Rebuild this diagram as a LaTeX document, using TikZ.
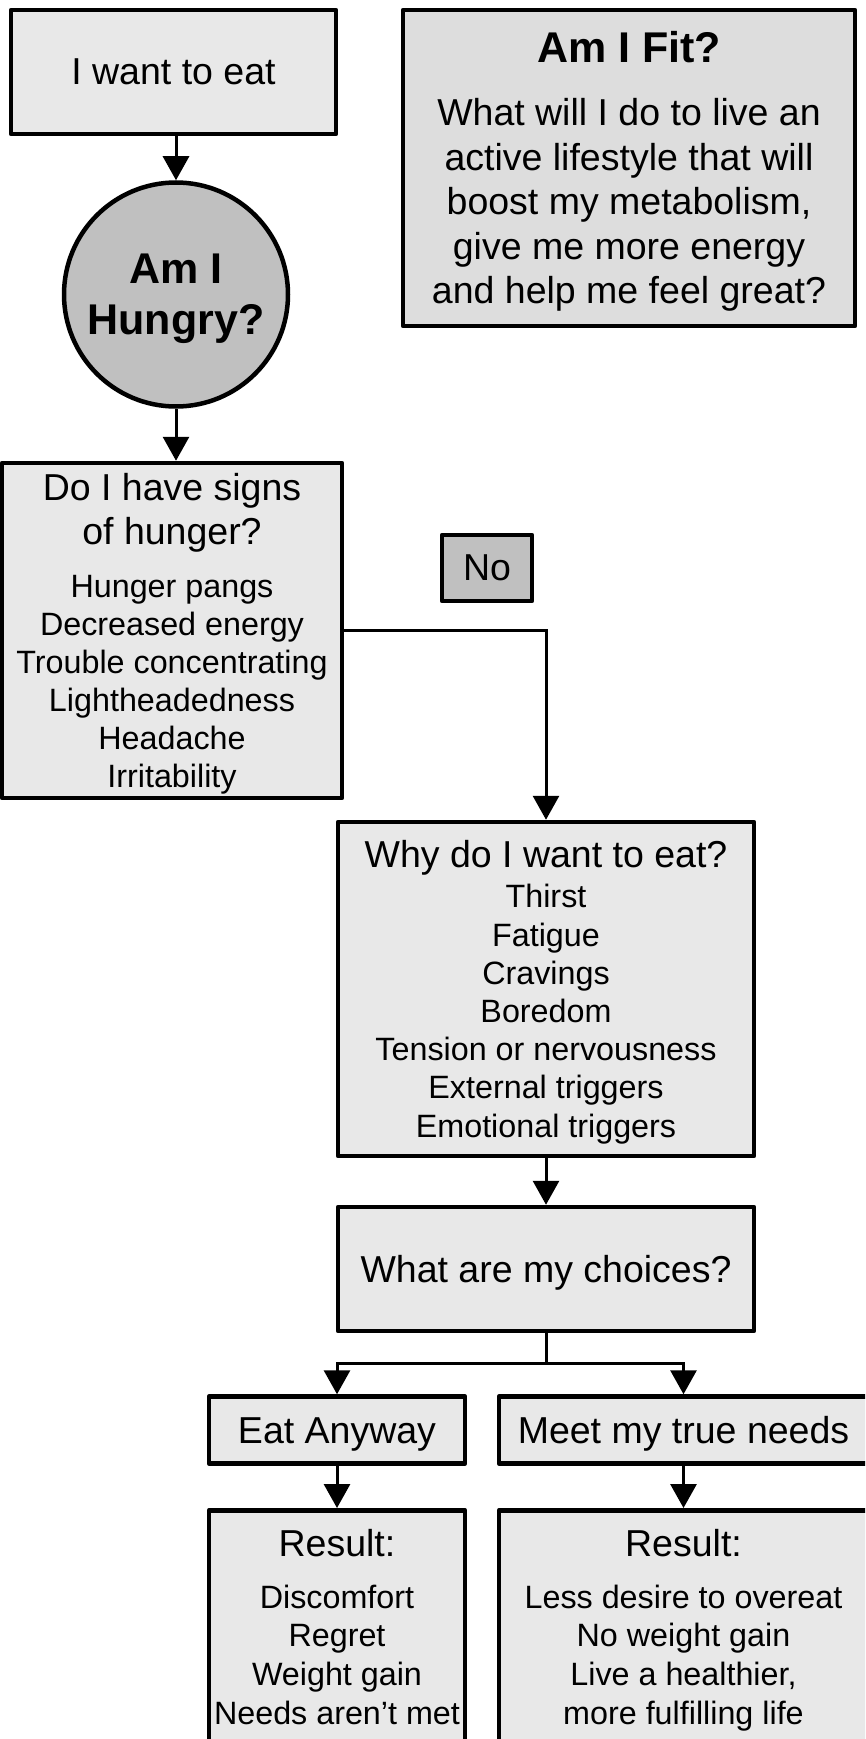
\documentclass[tikz,border=0pt]{standalone}
\usepackage{fontspec}
\setmainfont{Liberation Sans}
\usetikzlibrary{arrows.meta,positioning}

\definecolor{boxgray}{HTML}{E8E8E8}
\definecolor{fitgray}{HTML}{DDDDDD}
\definecolor{hungergray}{HTML}{C0C0C0}

\newcommand{\titlesize}{\fontsize{37.5}{44}\selectfont}
\newcommand{\itemsize}{\fontsize{32.3}{38}\selectfont}
% full ascent and descent of the font, so lines sit as in the original
\newcommand{\wstrut}{\rule[-0.212em]{0pt}{1.117em}}

\newcommand{\drawarrow}[2]{
\draw[flow] (#1) -- (#2);
}

\tikzset{
box/.style={draw, rectangle, line width=4.5, fill=boxgray, inner sep=0,
  align=center, line join=round},
flow/.style={line width=3, -{Triangle[length=24pt,width=26pt]}}
}

\begin{document}
\begin{tikzpicture}[x=1pt, y=-1pt]
\useasboundingbox (0, 0) rectangle (865, 1739);
\clip (0, 0) rectangle (865, 1739);

\node[box, minimum width=325, minimum height=124, font=\titlesize] (1) at (173.5, 72){I want to eat\wstrut};
\node[circle, draw, line width=4.5, fill=hungergray, minimum size=224, inner sep=0,
  align=center, font=\bfseries\fontsize{43}{51}\selectfont] (2) at (176, 294.5){\wstrut Am I\\Hungry?\wstrut};
\node[box, fill=fitgray, minimum width=452, minimum height=316,
  font=\fontsize{37.5}{44.5}\selectfont] (3) at (629, 168){{\bfseries\fontsize{43}{50}\selectfont\wstrut Am I Fit?}\\[18.5pt]
  What will I do to live an\\active lifestyle that will\\boost my metabolism,\\give me more energy\\and help me feel great?\wstrut};

\node[box, minimum width=340, minimum height=335, font=\itemsize] (4) at (172, 630.5){{\titlesize\wstrut Do I have signs}\\[6pt]
  {\titlesize of hunger?}\\[15pt]Hunger pangs\\Decreased energy\\Trouble concentrating\\Lightheadedness\\Headache\\Irritability\wstrut};
\node[box, fill=hungergray, minimum width=90, minimum height=66, font=\titlesize] (5) at (487, 568){No\wstrut};

\node[box, minimum width=416, minimum height=334, font=\fontsize{32.3}{38.2}\selectfont] (6) at (546, 989){{\titlesize\wstrut Why do I want to eat?}\\[1.8pt]
  Thirst\\Fatigue\\Cravings\\Boredom\\Tension or nervousness\\External triggers\\Emotional triggers\wstrut};
\node[box, minimum width=416, minimum height=124, font=\titlesize] (7) at (546, 1269){What are my choices?\wstrut};

\node[box, minimum width=256, minimum height=67, font=\titlesize] (8) at (337, 1430){Eat Anyway\wstrut};
\node[box, minimum width=369, minimum height=67, font=\titlesize] (9) at (683.5, 1430){Meet my true needs\wstrut};

\node[box, anchor=north, minimum width=256, inner ysep=19, text depth=250,
  font=\fontsize{32.3}{38.7}\selectfont] (10) at (337, 1508){{\titlesize Result:}\\[13pt]
  Discomfort\\Regret\\Weight gain\\Needs aren't met};
\node[box, anchor=north, minimum width=369, inner ysep=19, text depth=250,
  font=\fontsize{32.3}{38.7}\selectfont] (11) at (683.5, 1508){{\titlesize Result:}\\[13pt]
  Less desire to overeat\\No weight gain\\Live a healthier,\\more fulfilling life};

\coordinate (split) at (546, 1363);

\drawarrow{1.south -| 2.north}{2.north}
\drawarrow{2.south}{2.south |- 4.north}
\draw[flow] (4.east) -| (6.north);
\drawarrow{6.south}{7.north}
\draw[flow] (7.south) -- (split) -| (8.north);
\draw[flow] (split) -| (9.north);
\drawarrow{8.south}{10.north}
\drawarrow{9.south}{11.north}

\end{tikzpicture}
\end{document}
